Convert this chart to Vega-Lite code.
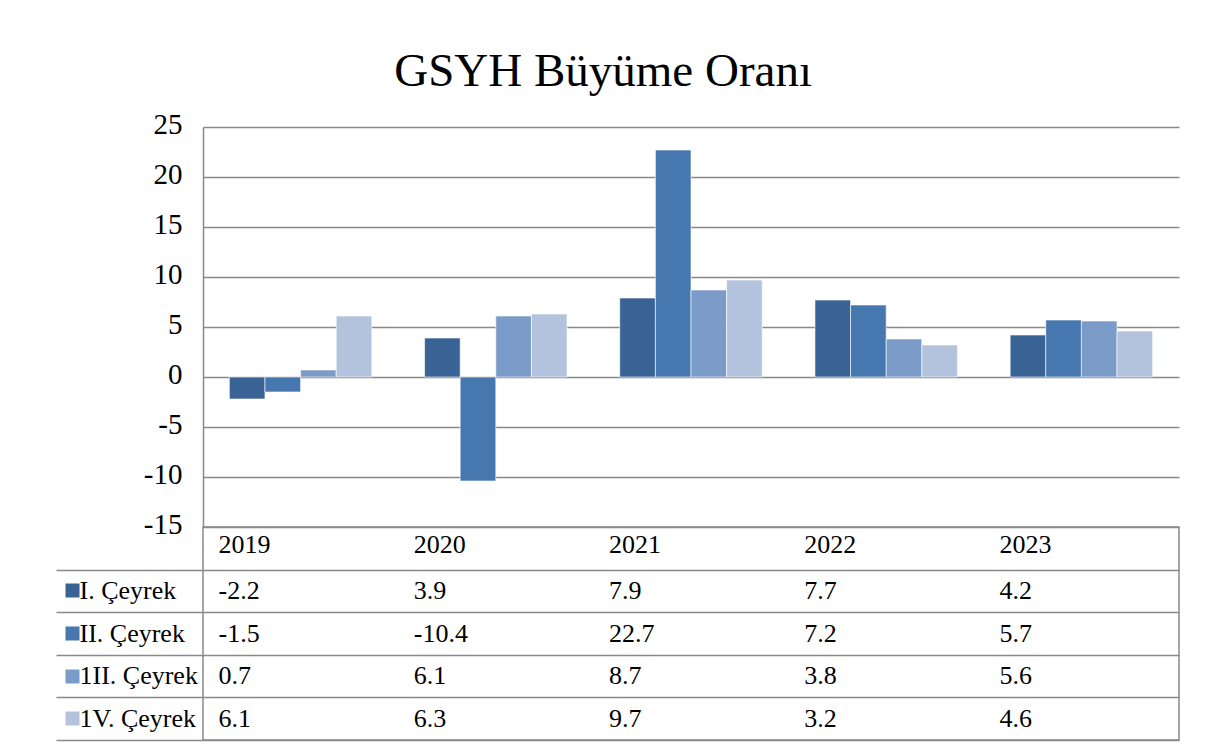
{
  "$schema": "https://vega.github.io/schema/vega-lite/v6.json",
  "background": "white",
  "padding": {"left": 54, "top": 48, "right": 31, "bottom": 10},
  "title": {"text": "GSYH Büyüme Oranı", "font": "Liberation Serif", "fontSize": 47, "fontWeight": "normal", "color": "black", "anchor": "middle", "offset": 14, "dx": -14},
  "config": {"font": "Liberation Serif", "text": {"font": "Liberation Serif"}, "axis": {"labelFont": "Liberation Serif"}},
  "datasets": {
    "gdp": [
      {"year": "2019", "quarter": "I. Çeyrek", "value": -2.2},
      {"year": "2019", "quarter": "II. Çeyrek", "value": -1.5},
      {"year": "2019", "quarter": "1II. Çeyrek", "value": 0.7},
      {"year": "2019", "quarter": "1V. Çeyrek", "value": 6.1},
      {"year": "2020", "quarter": "I. Çeyrek", "value": 3.9},
      {"year": "2020", "quarter": "II. Çeyrek", "value": -10.4},
      {"year": "2020", "quarter": "1II. Çeyrek", "value": 6.1},
      {"year": "2020", "quarter": "1V. Çeyrek", "value": 6.3},
      {"year": "2021", "quarter": "I. Çeyrek", "value": 7.9},
      {"year": "2021", "quarter": "II. Çeyrek", "value": 22.7},
      {"year": "2021", "quarter": "1II. Çeyrek", "value": 8.7},
      {"year": "2021", "quarter": "1V. Çeyrek", "value": 9.7},
      {"year": "2022", "quarter": "I. Çeyrek", "value": 7.7},
      {"year": "2022", "quarter": "II. Çeyrek", "value": 7.2},
      {"year": "2022", "quarter": "1II. Çeyrek", "value": 3.8},
      {"year": "2022", "quarter": "1V. Çeyrek", "value": 3.2},
      {"year": "2023", "quarter": "I. Çeyrek", "value": 4.2},
      {"year": "2023", "quarter": "II. Çeyrek", "value": 5.7},
      {"year": "2023", "quarter": "1II. Çeyrek", "value": 5.6},
      {"year": "2023", "quarter": "1V. Çeyrek", "value": 4.6}
    ]
  },
  "bounds": "flush",
  "spacing": 0,
  "vconcat": [
    {
      "width": 976,
      "height": 400,
      "data": {"name": "gdp"},
      "view": {"stroke": null},
      "mark": {"type": "bar", "stroke": "white", "strokeOpacity": 0.6, "strokeWidth": 1},
      "encoding": {
        "x": {"field": "year", "type": "nominal", "scale": {"paddingInner": 0.27, "paddingOuter": 0.135}, "axis": null},
        "xOffset": {"field": "quarter", "type": "nominal", "sort": ["I. Çeyrek", "II. Çeyrek", "1II. Çeyrek", "1V. Çeyrek"], "scale": {"domain": ["I. Çeyrek", "II. Çeyrek", "1II. Çeyrek", "1V. Çeyrek"], "paddingInner": 0, "paddingOuter": 0}},
        "y": {
          "field": "value", "type": "quantitative",
          "scale": {"domain": [-15, 25], "nice": false},
          "axis": {
            "values": [-15, -10, -5, 0, 5, 10, 15, 20, 25],
            "title": null, "ticks": false,
            "domain": true, "domainColor": "#898989", "domainWidth": 1.5,
            "grid": true, "gridColor": "#898989", "gridWidth": 1.5,
            "labelFont": "Liberation Serif", "labelFontSize": 29, "labelColor": "black",
            "labelPadding": 21, "labelExpr": "'' + datum.value", "labelBaseline": "middle", "labelOffset": -3
          }
        },
        "color": {
          "field": "quarter", "type": "nominal",
          "scale": {"domain": ["I. Çeyrek", "II. Çeyrek", "1II. Çeyrek", "1V. Çeyrek"], "range": ["#3A6395", "#4677AF", "#7B9BC8", "#B4C3DD"]},
          "legend": null
        }
      }
    },
    {
      "width": 976,
      "height": 213,
      "view": {"stroke": "#898989", "strokeWidth": 1.5},
      "layer": [
        {
          "data": {"name": "gdp"},
          "mark": {"type": "text", "align": "left", "baseline": "middle", "font": "Liberation Serif", "fontSize": 26, "color": "black", "dx": -82},
          "encoding": {
            "x": {"field": "year", "type": "nominal", "scale": {"paddingInner": 0.27, "paddingOuter": 0.135}, "axis": null},
            "y": {
              "field": "quarter", "type": "nominal",
              "scale": {"domain": ["header", "I. Çeyrek", "II. Çeyrek", "1II. Çeyrek", "1V. Çeyrek"], "paddingInner": 0, "paddingOuter": 0},
              "axis": {
                "orient": "left", "offset": 0, "title": null,
                "tickBand": "center", "tickOffset": 21.3, "ticks": true, "tickSize": 147, "tickColor": "#898989", "tickWidth": 1.5,
                "labels": false, "domain": false,
                "grid": true, "gridColor": "#898989", "gridWidth": 1.5
              }
            },
            "text": {"field": "value", "type": "nominal"}
          }
        },
        {
          "data": {"name": "gdp"},
          "transform": [{"filter": "datum.quarter === 'I. Çeyrek'"}],
          "mark": {"type": "text", "align": "left", "baseline": "middle", "font": "Liberation Serif", "fontSize": 26, "color": "black", "dx": -82, "dy": -3},
          "encoding": {
            "x": {"field": "year", "type": "nominal", "scale": {"paddingInner": 0.27, "paddingOuter": 0.135}, "axis": null},
            "y": {
              "datum": "header", "type": "nominal",
              "scale": {"domain": ["header", "I. Çeyrek", "II. Çeyrek", "1II. Çeyrek", "1V. Çeyrek"], "paddingInner": 0, "paddingOuter": 0},
              "axis": {
                "orient": "left", "offset": 124, "title": null,
                "tickBand": "center", "ticks": true, "tickSize": 14, "tickWidth": 14, "tickCap": "butt",
                "tickColor": {"condition": [
                  {"test": "datum.value === 'I. Çeyrek'", "value": "#3A6395"},
                  {"test": "datum.value === 'II. Çeyrek'", "value": "#4677AF"},
                  {"test": "datum.value === '1II. Çeyrek'", "value": "#7B9BC8"}
                ], "value": "#B4C3DD"},
                "tickOpacity": {"condition": {"test": "datum.value === 'header'", "value": 0}, "value": 1},
                "domain": false, "grid": false,
                "labelAlign": "left", "labelPadding": -14, "labelBaseline": "middle",
                "labelFont": "Liberation Serif", "labelFontSize": 26, "labelColor": "black",
                "labelExpr": "datum.value === 'header' ? '' : datum.label",
                "labelOverlap": false, "labelBound": false
              }
            },
            "text": {"field": "year", "type": "nominal"}
          }
        }
      ],
      "resolve": {"scale": {"y": "independent"}, "axis": {"y": "independent"}}
    }
  ]
}
